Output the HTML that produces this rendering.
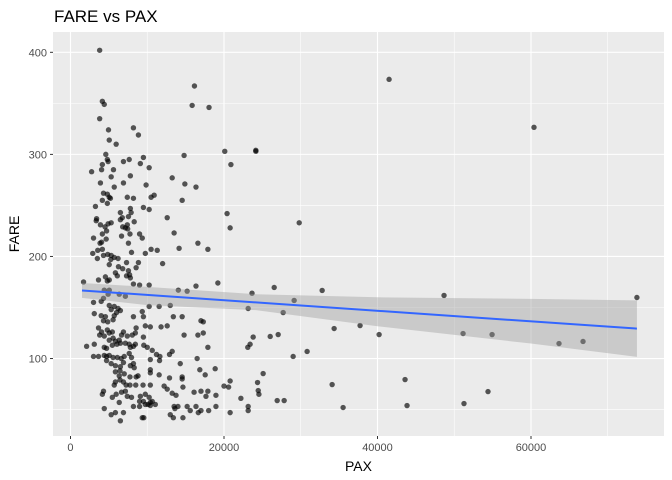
<!DOCTYPE html>
<html><head><meta charset="utf-8"><style>
body{margin:0;background:#fff;}
svg{display:block;font-family:"Liberation Sans",Arial,sans-serif;}
</style></head><body>
<svg id="chart" width="672" height="480"></svg>
<script>
const xTicks=[0,20000,40000,60000];
const xTickLabels=["0","20000","40000","60000"];
const xMinor=[10000,30000,50000,70000];
const yTicks=[100,200,300,400];
const yTickLabels=["100","200","300","400"];
const yMinor=[50,150,250,350];
const pax=[3800,16150,4150,4400,15850,18050,3800,4950,8200,8850,5050,5950,4600,4800,4900,4150,4050,2750,6900,7650,9500,10250,9100,14800,20100,24150,20900,5600,5300,7800,3900,6900,5700,13250,14900,16350,9850,4300,4800,5050,5200,4150,4800,7400,8200,10500,10900,14550,3250,9500,10250,3400,3350,6500,6750,6500,7800,7900,7550,8300,3900,4500,4900,5300,12600,20400,20800,13500,6800,7400,7450,7150,4150,4700,4650,4050,3850,3000,6650,7750,9000,9350,16600,17900,7550,7950,10500,11300,14150,9750,2900,3500,3550,4150,4300,4850,5300,5700,6200,5250,5050,7300,8850,8550,12000,6800,6250,7550,7700,7300,7800,4550,4800,5050,3650,5850,6100,1700,8200,9000,10250,14050,15200,16350,19200,23650,4400,5050,4900,4300,6350,7150,10250,11550,13000,23150,3000,4000,5050,5300,5700,6200,6500,6000,3100,4000,4550,4300,4850,5550,5700,8200,9350,9500,13400,14550,17000,17300,12600,11800,10400,9750,8550,8450,3650,4050,3800,4800,5050,5450,4400,6900,6650,7400,8050,6350,14800,16600,17300,23800,5050,5550,5850,5450,6050,6500,9500,9550,7150,7650,7800,8200,8450,2100,3100,4400,4700,10000,10650,11200,11650,13250,12900,17900,23100,23400,3000,3650,4400,4700,5050,4700,5550,6100,6600,7000,7650,7950,6900,10400,11600,16500,5300,5850,6500,7800,8200,8300,14300,6450,5850,7000,10400,11550,10400,16850,17550,18850,6350,6450,5850,5700,6900,7750,7250,7750,8550,8800,9450,10400,8500,12900,14550,14550,12200,12600,13250,13750,14650,16100,17000,17900,17650,18950,20000,20800,20600,4150,4300,5450,5950,6650,7150,7400,7950,9100,9750,10250,10400,10650,10100,11050,9000,9500,6350,8200,9000,9750,10400,4400,5300,5850,6900,6500,9350,9550,13500,13600,14000,13000,13400,14650,15200,15600,16350,16650,17000,18000,18950,20800,22200,23150,23150,24550,41510,60390,24150,29800,26540,32790,29140,27710,48670,73800,26020,27060,34350,37730,40210,51150,54930,63650,66780,29010,30830,25100,24370,24460,26930,27840,34090,35520,43590,43850,51270,54400];
const fare=[402,367,352,349,348,346,335,324,326,319,314,310,300,295,293,290,285,283,293,295,297,287,291,299,303,303,290,285,278,279,272,272,268,277,271,268,270,262,261,258,257,255,252,258,257,258,260,255,249,248,246,237,235,243,238,236,247,243,239,234,231,229,232,233,238,242,228,223,229,231,227,228,222,225,217,214,213,218,220,222,222,218,213,207,213,204,207,206,208,203,203,198,206,207,201,202,201,199,198,197,192,194,194,189,193,188,190,186,182,181,179,180,176,177,177,184,181,175,173,172,172,167,166,171,174,164,167,167,163,159,163,161,151,151,152,149,155,156,152,148,151,149,147,145,144,142,141,137,136,138,142,141,146,141,141,141,137,136,132,131,131,132,130,125,130,126,123,128,125,126,122,126,123,122,123,118,123,123,125,121,118,120,117,113,114,115,121,113,115,114,111,112,114,112,114,111,110,111,108,104,102,107,104,111,111,114,102,102,103,102,103,98,101,101,100,102,105,101,96,99,98,100,95,93,92,93,95,91,95,88,87,85,89,84,86,89,84,90,83,79,77,74,77,82,74,74,82,83,74,74,74,81,82,80,73,70,66,64,72,67,68,68,63,64,73,78,72,65,68,62,65,67,68,63,62,63,65,62,57,58,55,55,58,58,57,53,53,55,54,51,45,47,47,39,42,42,53,51,53,45,42,42,53,49,53,47,49,49,53,47,61,53,49,65,373.5,326.5,304,233,169.6,166.7,156.9,145,161.8,159.8,121.6,123.5,129.4,132.3,123.5,124.5,123.5,114.7,116.7,102,106.9,85.3,76.5,68.6,58.8,58.8,74.5,52,79.4,53.9,55.9,67.6];
const fitX=[1500,73800];
const fitY=[166.7,129.3];
const bandX=[1500,10000,24150,40000,60000,73800];
const bandUpper=[174,170.2,163,160,158.4,157];
const bandLower=[159.4,152.3,147.4,131.6,114.7,101.6];

const NS="http://www.w3.org/2000/svg";
const svg=document.getElementById('chart');
const P={l:53,r:664,t:32,b:436};
const X0=-2280,X1=77330,Y0=24.1,Y1=419.9;
function sx(v){return P.l+(v-X0)/(X1-X0)*(P.r-P.l);}
function sy(v){return P.b-(v-Y0)/(Y1-Y0)*(P.b-P.t);}
function mk(tag,attrs,parent){const e=document.createElementNS(NS,tag);for(const k in attrs)e.setAttribute(k,attrs[k]);(parent||svg).appendChild(e);return e;}

const bg=mk('rect',{x:P.l,y:P.t,width:P.r-P.l,height:P.b-P.t,fill:'#ebebeb'});


const grid=mk('g',{});


xMinor.forEach(v=>mk('line',{x1:sx(v),x2:sx(v),y1:P.t,y2:P.b,stroke:'#fff','stroke-width':0.55},grid));
yMinor.forEach(v=>mk('line',{x1:P.l,x2:P.r,y1:sy(v),y2:sy(v),stroke:'#fff','stroke-width':0.55},grid));
xTicks.forEach(v=>mk('line',{x1:sx(v),x2:sx(v),y1:P.t,y2:P.b,stroke:'#fff','stroke-width':1.1},grid));
yTicks.forEach(v=>mk('line',{x1:P.l,x2:P.r,y1:sy(v),y2:sy(v),stroke:'#fff','stroke-width':1.1},grid));

const pts=mk('g',{});


for(let i=0;i<pax.length;i++){
  const c=mk('circle',{cx:sx(pax[i]),cy:sy(fare[i]),r:2.7,fill:'#000','fill-opacity':0.65},pts);
  
  
}

let d='';
bandX.forEach((v,i)=>{d+=(i?'L':'M')+sx(v)+','+sy(bandUpper[i]);});
for(let i=bandX.length-1;i>=0;i--)d+='L'+sx(bandX[i])+','+sy(bandLower[i]);
const band=mk('path',{d:d+'Z',fill:'#999','fill-opacity':0.4});


const fit=mk('line',{x1:sx(fitX[0]),y1:sy(fitY[0]),x2:sx(fitX[1]),y2:sy(fitY[1]),stroke:'#3366ff','stroke-width':2});



const ax=mk('g',{});


xTicks.forEach((v,i)=>{
  mk('line',{x1:sx(v),x2:sx(v),y1:P.b,y2:P.b+3,stroke:'#333','stroke-width':1},ax);
  const t=mk('text',{x:sx(v),y:P.b+15,'text-anchor':'middle','font-size':11,fill:'#4d4d4d'},ax);
  t.textContent=xTickLabels[i];
  
  
});
yTicks.forEach((v,i)=>{
  mk('line',{x1:P.l-3,x2:P.l,y1:sy(v),y2:sy(v),stroke:'#333','stroke-width':1},ax);
  const t=mk('text',{x:P.l-6,y:sy(v)+4,'text-anchor':'end','font-size':11,fill:'#4d4d4d'},ax);
  t.textContent=yTickLabels[i];
  
  
});
const xt=mk('text',{x:(P.l+P.r)/2,y:471,'text-anchor':'middle','font-size':14,fill:'#000'});
xt.textContent='PAX';


const yt=mk('text',{x:0,y:0,'text-anchor':'middle','font-size':14,fill:'#000',transform:'translate(19,'+((P.t+P.b)/2)+') rotate(-90)'});
yt.textContent='FARE';


const tt=mk('text',{x:54,y:22,'font-size':17,fill:'#000'});
tt.textContent='FARE vs PAX';


</script>
</body></html>
